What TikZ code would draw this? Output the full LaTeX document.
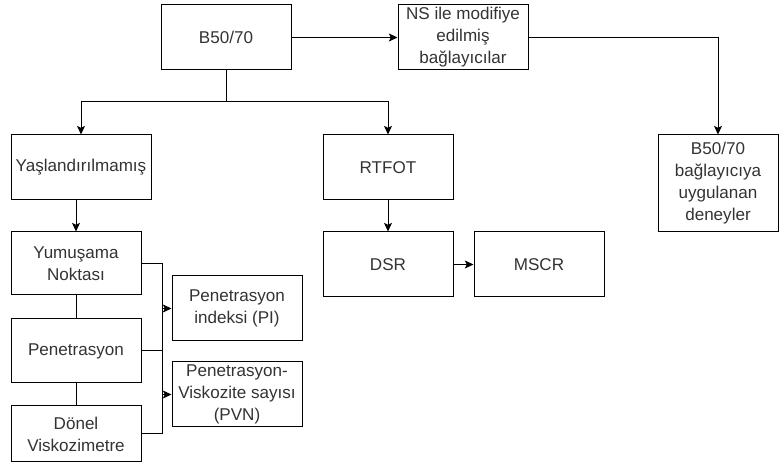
\documentclass[tikz,border=0pt]{standalone}
\usepackage{fontspec}
\setmainfont{Liberation Sans}
\usetikzlibrary{arrows.meta,calc}
\definecolor{txt}{HTML}{333333}
\tikzset{
  box/.style={draw=black, line width=0.75pt, rectangle, align=center, inner sep=1pt,
    text=txt, font=\fontsize{12.8}{16.5}\selectfont, minimum width=97.5pt, minimum height=48.75pt},
  arr/.style={draw=black, line width=0.75pt, -{Stealth[length=6.5pt,width=6pt,inset=1.5pt]}},
  ln/.style={draw=black, line width=0.75pt},
}
\begin{document}
\begin{tikzpicture}[x=0.75pt,y=-0.75pt]
\useasboundingbox (0,0) rectangle (779,473);
\node[box] (b50) at (226,37.5) {B50/70};
\node[box] (ns) at (463,37.5) {NS ile modifiye\\edilmiş\\bağlayıcılar};
\node[box, minimum width=105pt] (yas) at (81,167.5) {Yaşlandırılmamış};
\node[box] (rtfot) at (388,167.5) {RTFOT};
\node[box, minimum width=90pt, minimum height=72.75pt] (den) at (718,183.5) {B50/70\\bağlayıcıya\\uygulanan\\deneyler};
\node[box, minimum height=47.25pt] (yum) at (76,263.5) {Yumuşama\\Noktası};
\node[box, minimum height=48pt] (pen) at (76,351) {Penetrasyon};
\node[box, minimum height=42pt] (don) at (76,434) {Dönel\\Viskozimetre};
\node[box] (pi) at (237,308.5) {Penetrasyon\\indeksi (PI)};
\node[box] (pvn) at (237,394.5) {Penetrasyon-\\Viskozite sayısı\\(PVN)};
\node[box] (dsr) at (388,264.5) {DSR};
\node[box] (mscr) at (539,264.5) {MSCR};
\coordinate (split) at (226,102);
\coordinate (bx) at (162,0);
\draw[arr] (b50.east) -- (ns.west);
\draw[ln] (b50.south) -- (split);
\draw[arr] (split) -| (yas.north);
\draw[arr] (split) -| (rtfot.north);
\draw[arr] (ns.east) -| (den.north);
\draw[arr] (yum.north |- yas.south) -- (yum.north);
\draw[arr] (rtfot.south) -- (dsr.north);
\draw[arr] (dsr.east) -- (mscr.west);
\draw[ln] (yum.south) -- (pen.north);
\draw[ln] (pen.south) -- (don.north);
\draw[ln] (yum.east) -- (yum.east -| bx) -- (don.east -| bx) -- (don.east);
\draw[ln] (pen.east) -- (pen.east -| bx);
\draw[arr] (pi.west -| bx) -- (pi.west);
\draw[arr] (pvn.west -| bx) -- (pvn.west);
\end{tikzpicture}
\end{document}
